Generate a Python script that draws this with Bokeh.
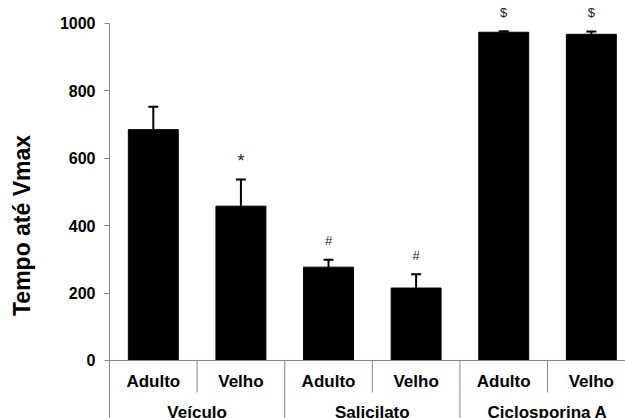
from bokeh.plotting import figure
from bokeh.models import Range1d, FixedTicker, ColumnDataSource
from bokeh.embed import file_html
from bokeh.resources import INLINE
from bokeh.core.properties import value

# ---- data ----
treatments = ["Veículo", "Salicilato", "Ciclosporina A"]
ages = ["Adulto", "Velho"]
means = [685, 458, 277, 215, 974, 968]
errors = [68, 79, 22, 41, 3, 8]
marks = ["", "*", "#", "#", "$", "$"]
y_ticks = [0, 200, 400, 600, 800, 1000]
y_title = "Tempo até  Vmax"

n = len(means)
na = len(ages)
xc = [i + 0.5 for i in range(n)]
tops = [m + e for m, e in zip(means, errors)]
mark_size = ["18px" if m == "*" else "13px" for m in marks]
src = ColumnDataSource(dict(x=xc, mean=means, top=tops, mark=marks, msize=mark_size))

age_labels = [ages[i % na] for i in range(n)]
group_x = [na * j + na / 2 for j in range(len(treatments))]
long_sep = [na * j for j in range(1, len(treatments) + 1)]
short_sep = [na * j + 1 for j in range(len(treatments))]

GRAY = "#868686"
FONT = "Liberation Sans"
Y0 = -172.1   # frame extends below zero to hold the category rows

p = figure(width=625, height=418, output_backend="svg", toolbar_location=None,
           x_range=Range1d(0, 5.89), y_range=Range1d(Y0, 1068.2),
           x_axis_location=None,
           min_border_left=109, min_border_right=0, min_border_top=0,
           min_border_bottom=0)
p.grid.visible = False
p.outline_line_color = None
p.background_fill_color = "white"

p.vbar(x="x", top="mean", bottom=0, width=0.57, source=src,
       fill_color="black", line_color="black")
p.segment(x0="x", y0="mean", x1="x", y1="top", source=src,
          line_color="black", line_width=2)
p.scatter(x="x", y="top", source=src, marker="dash", size=10,
          line_color="black", line_width=2)
p.text(x="x", y="top", text="mark", source=src, text_align="center",
       text_baseline="middle", y_offset=-19, text_font=value(FONT),
       text_font_size="msize", text_color="#222222")

# category axis (drawn inside the extended frame)
p.segment(x0=0, y0=0, x1=n, y1=0, line_color=GRAY, line_width=1)
p.segment(x0=long_sep, y0=0, x1=long_sep, y1=Y0, line_color=GRAY, line_width=1)
p.segment(x0=short_sep, y0=0, x1=short_sep, y1=-95, line_color=GRAY, line_width=1)
p.text(x=xc, y=[-62] * n, text=age_labels, text_align="center",
       text_baseline="middle", text_font=value(FONT), text_font_style="bold",
       text_font_size="17px", text_color="black")
p.text(x=group_x, y=[-154] * len(treatments), text=treatments,
       text_align="center", text_baseline="middle", text_font=value(FONT),
       text_font_style="bold", text_font_size="17px", text_color="black")

# y axis
ya = p.yaxis[0]
ya.ticker = FixedTicker(ticks=y_ticks)
ya.bounds = (Y0, 1000)
ya.axis_line_color = GRAY
ya.major_tick_line_color = GRAY
ya.major_tick_out = 5
ya.major_tick_in = 0
ya.minor_tick_out = 0
ya.minor_tick_in = 0
ya.major_label_text_font = FONT
ya.major_label_text_font_style = "bold"
ya.major_label_text_font_size = "16px"
ya.major_label_text_color = "black"
ya.major_label_standoff = 9
ya.axis_label = y_title + "\u00a0" * 4
ya.axis_label_text_font = FONT
ya.axis_label_text_font_style = "bold"
ya.axis_label_text_font_size = "23px"
ya.axis_label_text_color = "black"
ya.axis_label_standoff = 22

open("out.html", "w").write(file_html(p, INLINE))
